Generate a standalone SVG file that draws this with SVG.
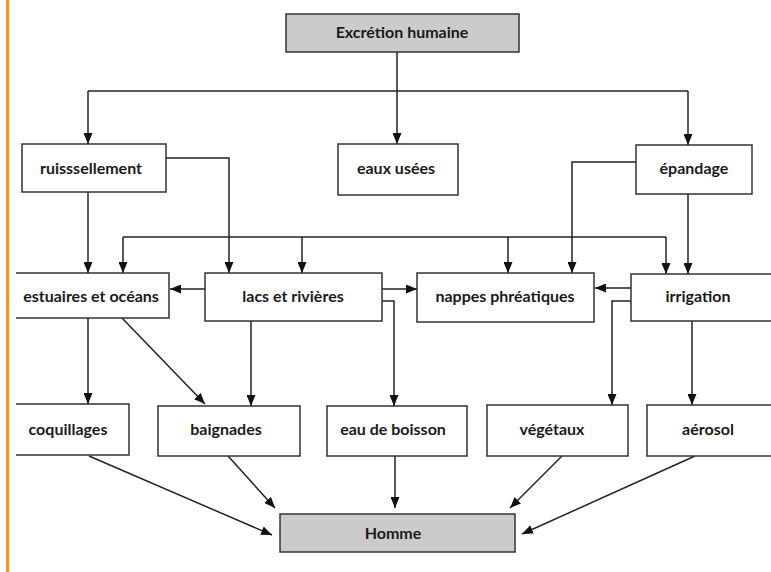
<svg xmlns="http://www.w3.org/2000/svg" width="771" height="572" viewBox="0 0 771 572">
<style>
.box{fill:#fff;stroke:#333;stroke-width:1.5}
.grey{fill:#cbcbcb;stroke:#333;stroke-width:1.5}
.lbl{font-family:Lato,"Open Sans",sans-serif;font-weight:bold;font-size:16px;fill:#1a1a1a;text-anchor:middle}
.c{fill:none;stroke:#222;stroke-width:1.5}
</style>
<defs>
<marker id="ah" markerUnits="userSpaceOnUse" markerWidth="11" markerHeight="9" refX="11" refY="4.5" orient="auto">
<path d="M0,0 L11,4.5 L0,9 z" fill="#111"/>
</marker>
</defs>
<rect width="771" height="572" fill="#fff"/>
<line x1="7.5" y1="0" x2="7.5" y2="572" stroke="#f7941d" stroke-width="3"/>

<g id="connectors">
<path class="c" d="M397,52 V91"/>
<path class="c" d="M88,91 H688"/>
<path class="c" marker-end="url(#ah)" d="M88,91 V144"/>
<path class="c" marker-end="url(#ah)" d="M397,91 V144"/>
<path class="c" marker-end="url(#ah)" d="M688,91 V145"/>
<path class="c" marker-end="url(#ah)" d="M88,192 V273"/>
<path class="c" marker-end="url(#ah)" d="M166,158 H229 V273"/>
<path class="c" marker-end="url(#ah)" d="M688,194 V274"/>
<path class="c" marker-end="url(#ah)" d="M636,162 H572 V273"/>
<path class="c" d="M123,237 H666"/>
<path class="c" marker-end="url(#ah)" d="M123,237 V273"/>
<path class="c" marker-end="url(#ah)" d="M302,237 V273"/>
<path class="c" marker-end="url(#ah)" d="M508,237 V273"/>
<path class="c" marker-end="url(#ah)" d="M666,237 V274"/>
<path class="c" marker-end="url(#ah)" d="M205,289 H170"/>
<path class="c" marker-end="url(#ah)" d="M382,289 H417"/>
<path class="c" marker-end="url(#ah)" d="M382,301 H394 V406"/>
<path class="c" marker-end="url(#ah)" d="M251,321 V406"/>
<path class="c" marker-end="url(#ah)" d="M631,288 H595"/>
<path class="c" marker-end="url(#ah)" d="M631,301 H612 V405"/>
<path class="c" marker-end="url(#ah)" d="M692,321 V405"/>
<path class="c" marker-end="url(#ah)" d="M88,318 V404"/>
<path class="c" marker-end="url(#ah)" d="M122,318 L205,404"/>
<path class="c" marker-end="url(#ah)" d="M89,456 L272,535"/>
<path class="c" marker-end="url(#ah)" d="M228,456 L275,508"/>
<path class="c" marker-end="url(#ah)" d="M395,456 V508"/>
<path class="c" marker-end="url(#ah)" d="M562,456 L510,508"/>
<path class="c" marker-end="url(#ah)" d="M695,456 L522,534"/>
</g>

<g id="excretion"><rect class="grey" x="286" y="14" width="233" height="38"/><text class="lbl" x="402" y="38">Excrétion humaine</text></g>
<g id="ruissellement"><rect class="box" x="22" y="144" width="144" height="48"/><text class="lbl" x="91" y="174">ruisssellement</text></g>
<g id="eaux-usees"><rect class="box" x="338" y="144" width="120" height="51"/><text class="lbl" x="396" y="174">eaux usées</text></g>
<g id="epandage"><rect class="box" x="636" y="145" width="116" height="49"/><text class="lbl" x="694" y="174">épandage</text></g>
<g id="estuaires"><path class="box" d="M16,273 H169 V318 H16"/><text class="lbl" x="91" y="302">estuaires et océans</text></g>
<g id="lacs"><rect class="box" x="205" y="273" width="177" height="48"/><text class="lbl" x="293" y="302">lacs et rivières</text></g>
<g id="nappes"><rect class="box" x="417" y="273" width="177" height="49"/><text class="lbl" x="505" y="302">nappes phréatiques</text></g>
<g id="irrigation"><path class="box" d="M775,274 H631 V321 H775"/><text class="lbl" x="698" y="302">irrigation</text></g>
<g id="coquillages"><path class="box" d="M16,404 H129 V455 H16"/><text class="lbl" x="68" y="435">coquillages</text></g>
<g id="baignades"><rect class="box" x="158" y="406" width="142" height="50"/><text class="lbl" x="226" y="435">baignades</text></g>
<g id="eau-boisson"><rect class="box" x="327" y="406" width="140" height="50"/><text class="lbl" x="393" y="435">eau de boisson</text></g>
<g id="vegetaux"><rect class="box" x="487" y="405" width="141" height="51"/><text class="lbl" x="552" y="435">végétaux</text></g>
<g id="aerosol"><path class="box" d="M775,405 H647 V456 H775"/><text class="lbl" x="708" y="435">aérosol</text></g>
<g id="homme"><rect class="grey" x="280" y="514" width="235" height="38"/><text class="lbl" x="393" y="539">Homme</text></g>
</svg>
